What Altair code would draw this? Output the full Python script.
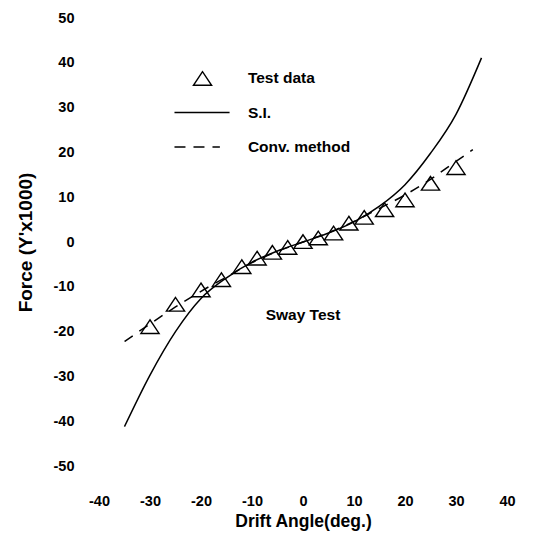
import altair as alt
import pandas as pd

# Test data (triangles)
test_x = [-30, -25, -20, -16, -12, -9, -6, -3, 0, 3, 6, 9, 12, 16, 20, 25, 30]
test_y = [-18.9, -13.9, -10.7, -8.4, -5.5, -3.6, -2.3, -1.2, 0.1, 0.9, 2.0, 4.2, 5.5, 7.2, 9.4, 13.1, 16.6]

# S.I. (solid line)
si_x = [-35, -30, -25, -20, -15, -10, -5, 0, 5, 10, 15, 20, 25, 30, 35]
si_y = [-41.2, -29.7, -20.0, -12.6, -8.0, -4.5, -2.0, 0.0, 2.0, 4.5, 8.0, 12.8, 19.8, 28.5, 41.1]

# Conv. method (dashed line)
conv_x = [-35, -30, -25, -20, -15, -10, -5, 0, 5, 10, 15, 20, 25, 30, 33.3]
conv_y = [-22.2, -18.3, -14.5, -11.0, -7.8, -4.6, -2.1, 0.0, 2.1, 4.6, 7.5, 10.5, 14.0, 18.0, 20.6]

# Tick values
x_ticks = [-40, -30, -20, -10, 0, 10, 20, 30, 40]
y_ticks = [-50, -40, -30, -20, -10, 0, 10, 20, 30, 40, 50]

# Legend entries (in data coordinates)
legend_labels = ["Test data", "S.I.", "Conv. method"]
legend_y = [36.5, 28.9, 21.2]
legend_text_x = -10.8
legend_sym_x = -19.7
legend_line_x = [-25.2, -14.4]
legend_dash_x = [-25.2, -16.3]

annot_text = "Sway Test"
annot_x, annot_y = 0, -16.2

FONT = "Liberation Sans"

xs = alt.Scale(domain=[-40, 40], nice=False, zero=False)
ys = alt.Scale(domain=[-50, 50], nice=False, zero=False)

df_test = pd.DataFrame({"x": test_x, "y": test_y})
df_si = pd.DataFrame({"x": si_x, "y": si_y})
df_conv = pd.DataFrame({"x": conv_x, "y": conv_y})

tri = "M0,-0.75L-1,0.75L1,0.75Z"
lab = "'' + datum.value"

x_enc = alt.X("x:Q", scale=xs, title="Drift Angle(deg.)",
              axis=alt.Axis(values=x_ticks, labelExpr=lab, labelFlush=False))
y_enc = alt.Y("y:Q", scale=ys, title="Force (Y'x1000)",
              axis=alt.Axis(values=y_ticks, labelExpr=lab, labelFlush=False))

si_line = alt.Chart(df_si).mark_line(color="black", strokeWidth=1.5, interpolate="monotone").encode(x=x_enc, y=y_enc)
conv_line = alt.Chart(df_conv).mark_line(color="black", strokeWidth=1.5, strokeDash=[10, 8], interpolate="monotone").encode(x="x:Q", y="y:Q")
pts = alt.Chart(df_test).mark_point(shape=tri, size=330, filled=False, color="black", strokeWidth=1.4, opacity=1).encode(x="x:Q", y="y:Q")

leg_sym = alt.Chart(pd.DataFrame({"x": [legend_sym_x], "y": [legend_y[0]]})).mark_point(
    shape=tri, size=330, filled=False, color="black", strokeWidth=1.4, opacity=1).encode(x="x:Q", y="y:Q")
leg_solid = alt.Chart(pd.DataFrame({"x": legend_line_x, "y": [legend_y[1]] * 2})).mark_line(
    color="black", strokeWidth=1.5).encode(x="x:Q", y="y:Q")
leg_dash = alt.Chart(pd.DataFrame({"x": legend_dash_x, "y": [legend_y[2]] * 2})).mark_line(
    color="black", strokeWidth=1.5, strokeDash=[11, 8]).encode(x="x:Q", y="y:Q")
leg_text = alt.Chart(pd.DataFrame({"x": [legend_text_x] * 3, "y": legend_y, "t": legend_labels})).mark_text(
    align="left", baseline="middle", font=FONT, fontWeight="bold", fontSize=15.5, color="black").encode(
    x="x:Q", y="y:Q", text="t:N")
annot = alt.Chart(pd.DataFrame({"x": [annot_x], "y": [annot_y], "t": [annot_text]})).mark_text(
    align="center", baseline="middle", font=FONT, fontWeight="bold", fontSize=15.5, color="black").encode(
    x="x:Q", y="y:Q", text="t:N")

chart = alt.layer(si_line, conv_line, pts, leg_sym, leg_solid, leg_dash, leg_text, annot).properties(
    width=408, height=448,
    autosize=alt.AutoSizeParams(type="none"),
    padding={"left": 91, "top": 10, "right": 34, "bottom": 68},
).configure_view(stroke=None).configure_axis(
    domain=False, ticks=False, grid=False,
    labelFont=FONT, labelFontWeight="bold", labelFontSize=14.5, labelColor="black",
    titleFont=FONT, titleFontWeight="bold", titleColor="black",
).configure_axisX(labelPadding=28, titlePadding=5, titleFontSize=17.5).configure_axisY(
    labelPadding=25, titlePadding=18, titleFontSize=19)

chart.save("out.html", embed_options={"renderer": "svg", "actions": False})
